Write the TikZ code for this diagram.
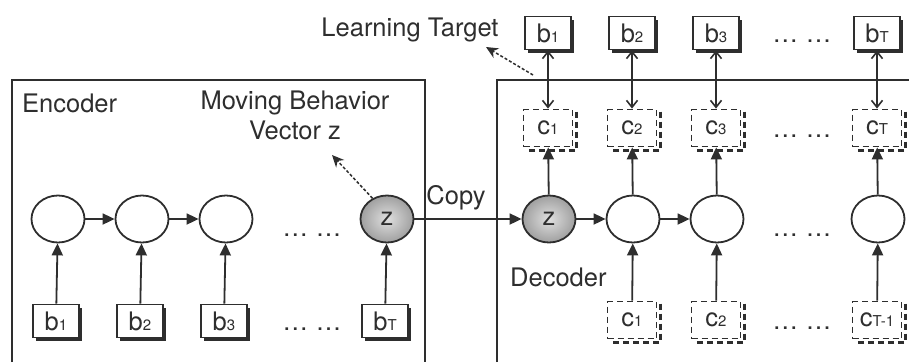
\documentclass[tikz,border=0pt]{standalone}
\usepackage{fontspec}
\setmainfont{TeX Gyre Heros}
\usetikzlibrary{arrows.meta,shadows,shapes.geometric}
\newcommand\smallsub[1]{{\fontsize{15pt}{15pt}\selectfont #1}}
\definecolor{ink}{gray}{0.18}

\begin{document}
\begin{tikzpicture}[x=1pt,y=-1pt,
  every node/.style={font=\fontsize{25.5pt}{30pt}\selectfont, text=ink},
  frame/.style={draw=ink, line width=1.8pt},
  state/.style={ellipse, draw=ink, line width=1.8pt, minimum width=53pt,
    minimum height=47pt, inner sep=0pt},
  zstate/.style={state, inner color=gray!25, outer color=gray!75},
  inbox/.style={rectangle, draw=ink, fill=white, line width=1.8pt,
    minimum width=46pt, minimum height=33pt, inner sep=0pt,
    drop shadow={shadow xshift=3pt, shadow yshift=-3pt, fill=ink, opacity=1}},
  outbox/.style={rectangle, draw=ink, fill=white, line width=1.8pt,
    dash pattern=on 6pt off 4pt, minimum width=49pt, minimum height=37pt,
    inner sep=0pt},
  cshade/.style={draw=ink, line width=3.5pt, dash pattern=on 6pt off 4pt},
  flow/.style={draw=ink, line width=1.8pt, -{Triangle[length=12pt,width=11pt]}},
  pair/.style={draw=ink, line width=1.6pt,
    {Straight Barb[length=7pt,width=11pt]}-{Straight Barb[length=7pt,width=11pt]}},
  hint/.style={draw=ink, line width=1.5pt, dash pattern=on 3pt off 2pt,
    -{Stealth[length=12pt,width=11pt]}},
  dots/.style={anchor=base, inner sep=0pt}
]
\useasboundingbox (0,0) rectangle (909,362);

% ---- Encoder frame ----
\draw[frame] (12,362) -- (12,80) -- (425,80) -- (425,362);
\node[anchor=west, inner sep=0pt] (enclabel) at (22,103) {Encoder};
\node[align=center, inner sep=0pt] (zlabel) at (295,115) {Moving Behavior\\Vector z};

% encoder states
\node[state]  (e1) at (58,219) {};
\node[state]  (e2) at (142,219) {};
\node[state]  (e3) at (226,219) {};
\node[zstate] (ez) at (387,219) {z};
\node[dots] (edots) at (312,236) {\ldots\hspace{8pt}\ldots};

% encoder inputs
\node[inbox] (ib1) at (56,321) {b\smallsub{1}};
\node[inbox] (ib2) at (140,321) {b\smallsub{2}};
\node[inbox] (ib3) at (224,321) {b\smallsub{3}};
\node[inbox] (ibT) at (385,321) {b\smallsub{T}};
\node[dots] (ibdots) at (312,330) {\ldots\hspace{8pt}\ldots};

\foreach \s/\t in {ib1/e1, ib2/e2, ib3/e3, ibT/ez, e1/e2, e2/e3}
  \draw[flow] (\s) -- (\t);

\coordinate (zhint) at (332,155);
\draw[hint] (ez.125) -- (zhint);

% ---- Copy ----
\node[inner sep=0pt] (copy) at (456,198) {Copy};

% ---- Decoder frame ----
\draw[frame] (497,362) -- (497,80) -- (909,80);
\node[anchor=west, inner sep=0pt] (declabel) at (510,277) {Decoder};

% decoder states
\node[zstate] (dz) at (549,219) {z};
\node[state]  (d1) at (633,219) {};
\node[state]  (d2) at (717,219) {};
\node[state]  (dT) at (878,219) {};
\node[dots] (ddots) at (802,236) {\ldots\hspace{8pt}\ldots};

\draw[flow] (ez) -- (dz);
\foreach \s/\t in {dz/d1, d1/d2}
  \draw[flow] (\s) -- (\t);

% decoder outputs
\node[outbox] (oc1) at (548,128) {c\smallsub{1}};
\node[outbox] (oc2) at (632,128) {c\smallsub{2}};
\node[outbox] (oc3) at (716,128) {c\smallsub{3}};
\node[outbox] (ocT) at (877,128) {c\smallsub{T}};
\node[dots] (ocdots) at (802,137) {\ldots\hspace{8pt}\ldots};

% decoder inputs
\node[outbox] (dc1) at (632,320) {c\smallsub{1}};
\node[outbox] (dc2) at (716,320) {c\smallsub{2}};
\node[outbox] (dcT) at (877,320) {c\smallsub{T-1}};
\node[dots] (dcdots) at (802,329) {\ldots\hspace{8pt}\ldots};

\foreach \n in {oc1,oc2,oc3,ocT,dc1,dc2,dcT}
  \draw[cshade] ([shift={(3pt,-3pt)}]\n.north east)
    -- ([shift={(3pt,-3pt)}]\n.south east)
    -- ([shift={(3pt,-3pt)}]\n.south west);

\foreach \s/\t in {dz/oc1, d1/oc2, d2/oc3, dT/ocT, dc1/d1, dc2/d2, dcT/dT}
  \draw[flow] (\s) -- (\t);

% learning targets
\node[inbox] (tb1) at (548,33) {b\smallsub{1}};
\node[inbox] (tb2) at (632,33) {b\smallsub{2}};
\node[inbox] (tb3) at (716,33) {b\smallsub{3}};
\node[inbox] (tbT) at (877,33) {b\smallsub{T}};
\node[dots] (tbdots) at (802,42) {\ldots\hspace{8pt}\ldots};

\foreach \s/\t in {tb1/oc1, tb2/oc2, tb3/oc3, tbT/ocT}
  \draw[pair] (\s) -- (\t);

\node[inner sep=0pt] (target) at (410,30) {Learning Target};
\coordinate (thint) at (533,75);
\coordinate (ttip) at (486,47);
\draw[hint] (thint) -- (ttip);
\end{tikzpicture}
\end{document}
